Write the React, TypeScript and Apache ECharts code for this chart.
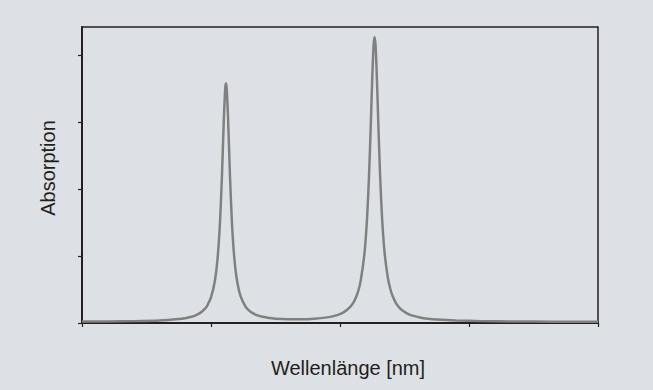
import React, { useEffect, useRef } from "react";
import * as echarts from "echarts";

// Wavelength positions (arbitrary axis units, 0..400)
const wavelengths = [
  0, 20, 40, 60, 75, 80, 85, 88, 92, 95, 97, 100, 103, 105, 107, 108.5, 110, 111, 111.6, 112.2,
  113.2, 114.7, 116.2, 118, 120, 123, 127, 130, 132, 136, 140, 145, 150, 155, 160, 170, 180,
  190, 195, 200, 203, 207, 210, 212, 214, 216, 219, 221, 222.5, 223.8, 225, 226, 226.8, 227.6,
  228.6, 229.8, 231.1, 232.6, 234.5, 237, 239, 241, 243.5, 246, 249, 253, 257, 262, 268, 275,
  290, 310, 335, 365, 400,
];
// Absorption values
const absorption = [
  0.021, 0.023, 0.028, 0.038, 0.059, 0.072, 0.094, 0.114, 0.155, 0.206, 0.257, 0.381, 0.628,
  0.942, 1.509, 2.202, 3.068, 3.498, 3.581, 3.498, 3.068, 2.202, 1.509, 0.986, 0.654, 0.396,
  0.238, 0.177, 0.15, 0.114, 0.092, 0.075, 0.065, 0.06, 0.056, 0.056, 0.064, 0.084, 0.103,
  0.133, 0.162, 0.221, 0.293, 0.366, 0.469, 0.625, 1.046, 1.572, 2.194, 2.921, 3.66, 4.133,
  4.269, 4.133, 3.659, 2.92, 2.193, 1.571, 1.065, 0.685, 0.508, 0.391, 0.294, 0.23, 0.179,
  0.134, 0.106, 0.083, 0.065, 0.052, 0.037, 0.028, 0.023, 0.02, 0.018,
];

const yTickValues = [0, 1, 2, 3, 4];
const xTickValues = [0, 100, 200, 300, 400];

const xTitle = "Wellenlänge [nm]";
const yTitle = "Absorption";

export default function App() {
  const ref = useRef<HTMLDivElement>(null);
  useEffect(() => {
    if (!ref.current) return;
    const chart = echarts.init(ref.current, null, { renderer: "svg" });
    const axisColor = "#231f20";
    const font = "Liberation Sans, Arial, sans-serif";
    chart.setOption({
      animation: false,
      backgroundColor: "#dde1e5",
      grid: {
        left: 82,
        right: 55,
        top: 27,
        bottom: 67,
        show: true,
        borderColor: axisColor,
        borderWidth: 1.5,
        backgroundColor: "transparent",
      },
      xAxis: {
        type: "value",
        min: 0,
        max: 400,
        interval: 100,
        axisLine: { show: true, lineStyle: { color: axisColor, width: 2 } },
        axisTick: {
          show: true,
          inside: false,
          length: 4,
          customValues: xTickValues,
          lineStyle: { color: axisColor, width: 1.2 },
        },
        axisLabel: { show: false },
        splitLine: { show: false },
      },
      yAxis: {
        type: "value",
        min: 0,
        max: 4.42,
        interval: 1,
        axisLine: { show: true, lineStyle: { color: axisColor, width: 2 } },
        axisTick: {
          show: true,
          inside: false,
          length: 4,
          customValues: yTickValues,
          lineStyle: { color: axisColor, width: 1.2 },
        },
        axisLabel: { show: false },
        splitLine: { show: false },
      },
      graphic: [
        {
          type: "text",
          x: 348,
          y: 368,
          style: {
            text: xTitle,
            fontSize: 20,
            fontFamily: font,
            fill: "#231f20",
            textAlign: "center",
            textVerticalAlign: "middle",
          },
        },
        {
          type: "text",
          x: 48,
          y: 168,
          rotation: Math.PI / 2,
          style: {
            text: yTitle,
            fontSize: 20,
            fontFamily: font,
            fill: "#231f20",
            textAlign: "center",
            textVerticalAlign: "middle",
          },
        },
      ],
      series: [
        {
          type: "line",
          data: wavelengths.map((w, i) => [w, absorption[i]]),
          showSymbol: false,
          smooth: 0.2,
          lineStyle: { color: "#808080", width: 2.5 },
          z: 1,
        },
      ],
    });
    return () => chart.dispose();
  }, []);
  return (
    <div
      ref={ref}
      style={{ position: "fixed", left: 0, top: 0, width: 653, height: 390 }}
    />
  );
}
